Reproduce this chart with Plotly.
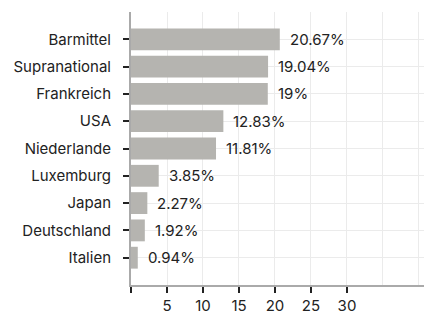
import plotly.graph_objects as go

categories = ["Barmittel", "Supranational", "Frankreich", "USA", "Niederlande",
              "Luxemburg", "Japan", "Deutschland", "Italien"]
values = [20.67, 19.04, 19, 12.83, 11.81, 3.85, 2.27, 1.92, 0.94]
labels = ["20.67%", "19.04%", "19%", "12.83%", "11.81%", "3.85%", "2.27%", "1.92%", "0.94%"]
x_tickvals = [0, 5, 10, 15, 20, 25, 30]
x_ticktext = ["", "5", "10", "15", "20", "25", "30"]

fig = go.Figure()
fig.add_trace(go.Bar(
    y=categories, x=values, orientation="h",
    marker=dict(color="#b5b4b0", line=dict(width=0)),
    width=0.8, hoverinfo="skip",
))
for c, v, t in zip(categories, values, labels):
    fig.add_annotation(x=v, y=c, text=t, showarrow=False, xanchor="left",
                       xshift=8, font=dict(size=15, color="#222222", family="Inter"))

fig.update_layout(
    width=424, height=312,
    margin=dict(l=131, r=0, t=12, b=27),
    paper_bgcolor="white", plot_bgcolor="white",
    font=dict(family="Inter", size=15, color="#222222"),
    showlegend=False,
    bargap=0.2,
)
fig.update_xaxes(
    range=[0, 40.7], tickvals=x_tickvals, ticktext=x_ticktext,
    ticks="outside", ticklen=6, tickwidth=1.5, tickcolor="#222222",
    ticklabelstandoff=0,
    showgrid=True, gridcolor="#ebebeb", gridwidth=1,
    minor=dict(dtick=5, tick0=0, showgrid=True, gridcolor="#ebebeb", gridwidth=1, ticks=""),
    showline=True, linecolor="#aaaaaa", linewidth=2,
    zeroline=False, fixedrange=True, automargin=False,
)
fig.update_yaxes(
    categoryorder="array", categoryarray=categories,
    range=[9, -1],
    ticks="outside", ticklen=6, tickwidth=1.5, tickcolor="#222222",
    ticklabelstandoff=9,
    showgrid=True, gridcolor="#ebebeb", gridwidth=1,
    showline=True, linecolor="#aaaaaa", linewidth=2,
    zeroline=False, fixedrange=True, automargin=False,
)
fig.write_html(
    "out.html",
    config={"displayModeBar": False},
    post_script="document.body.style.margin='0';document.body.style.overflow='hidden';",
)
